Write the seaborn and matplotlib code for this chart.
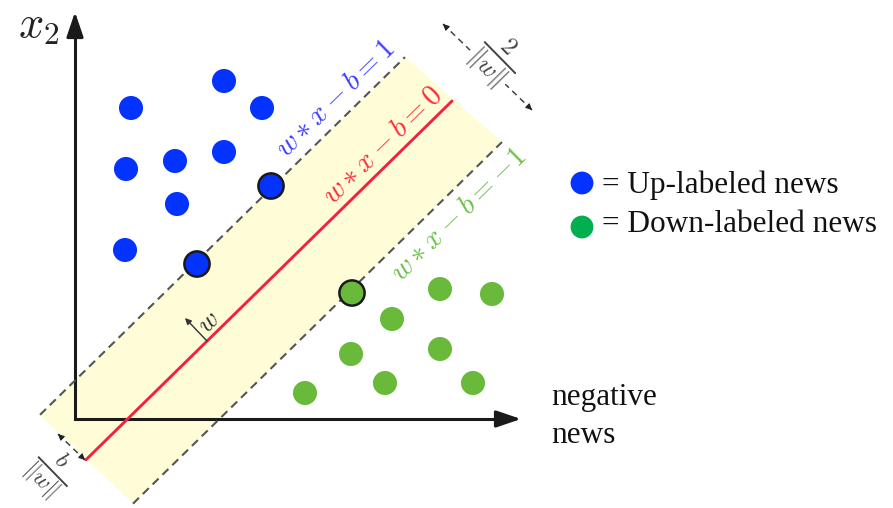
import numpy as np
import pandas as pd
import matplotlib
matplotlib.use("Agg")
import matplotlib.pyplot as plt
import seaborn as sns

# Feature-space samples (origin at the axes crossing, one unit per pixel)
up_x = [56, 149, 187, 51, 100, 149, 102, 50]
up_y = [311, 338, 311, 250, 258, 267, 215, 169]
down_x = [365, 417, 317, 276, 365, 310, 398, 230]
down_y = [130, 125, 100, 65, 70, 36, 36, 26]

# Support vectors sitting on the margins
sv_up_x = [196, 122]
sv_up_y = [233, 155]
sv_down_x = [277]
sv_down_y = [126]

# Separating hyperplane y = slope*x + intercept, margins at +/- margin
slope = 0.98
intercept = -51.5
margin = 90

# Drawn extent of each line (x range) for k = 1, 0, -1
line_k = [1, 0, -1]
line_x0 = [-35, 11, 58]
line_x1 = [330, 377, 427]

legend_labels = ["= Up-labeled news", "= Down-labeled news"]
axis_label = ["negative", "news"]

BLUE = "#0433ff"
GREEN = "#69b93a"
LEG_GREEN = "#00b050"

sns.set_theme(style="white")
plt.rcParams["mathtext.fontset"] = "cm"
plt.rcParams["font.family"] = ["Liberation Serif", "DejaVu Serif"]

fig = plt.figure(figsize=(8.93, 5.08), dpi=100)
ax = fig.add_axes([0, 0, 1, 1])
ax.set_xlim(-75, 818)
ax.set_ylim(-89, 419)
ax.set_aspect("equal")
ax.axis("off")


def yline(x, k):
    return slope * np.asarray(x, dtype=float) + intercept + k * margin


# margin band
bx = [line_x0[0], line_x1[0], line_x1[2], line_x0[2]]
by = [yline(line_x0[0], 1), yline(line_x1[0], 1), yline(line_x1[2], -1), yline(line_x0[2], -1)]
ax.fill(bx, by, color="#fffdd8", lw=0, zorder=0)

# coordinate axes
arrow_kw = dict(arrowstyle="-|>,head_length=1.0,head_width=0.34", lw=2.2,
                color="#1a1a1a", mutation_scale=15, shrinkA=0, shrinkB=0)
ax.plot([0, 0, 436], [398, 0, 0], color="#1a1a1a", lw=2.2, zorder=2,
        solid_joinstyle="miter")
ax.annotate("", xy=(0, 407), xytext=(0, 385), arrowprops=arrow_kw, zorder=2)
ax.annotate("", xy=(446, 0), xytext=(424, 0), arrowprops=arrow_kw, zorder=2)

# hyperplane and margins
for k, x0, x1 in zip(line_k, line_x0, line_x1):
    xs = np.array([x0, x1])
    if k == 0:
        ax.plot(xs, yline(xs, k), color="#f4213d", lw=2.1, zorder=3)
    else:
        ax.plot(xs, yline(xs, k), color="#555555", lw=1.5, dashes=(4, 2.6), zorder=3)

# line equations
ang = np.degrees(np.arctan(slope))
eq_kw = dict(rotation=ang, rotation_mode="anchor", ha="center", va="center",
             fontsize=21, zorder=4)
ax.text(261, 320, r"$w * x - b = 1$", color="#3b3bff", **eq_kw)
ax.text(308, 273, r"$w * x - b = 0$", color="#ff2a3c", **eq_kw)
ax.text(384, 204, r"$w * x - b = -1$", color="#6cbf46", **eq_kw)

# normal vector w
ax.annotate("", xy=(110, 101), xytext=(132, 78),
            arrowprops=dict(arrowstyle="-|>", lw=1.0, color="#333333",
                            mutation_scale=9, shrinkA=0, shrinkB=0), zorder=4)
ax.text(135, 96, r"$w$", rotation=ang, rotation_mode="anchor", ha="center",
        va="center", fontsize=19, color="#333333", zorder=4)


def dashed_double_arrow(p0, p1):
    p0 = np.asarray(p0, float)
    p1 = np.asarray(p1, float)
    ax.plot([p0[0], p1[0]], [p0[1], p1[1]], color="#444444", lw=1.1,
            dashes=(4, 3), zorder=4)
    d = (p1 - p0) / np.hypot(*(p1 - p0))
    head = dict(arrowstyle="-|>", lw=0.8, color="#222222", mutation_scale=9,
                shrinkA=0, shrinkB=0)
    ax.annotate("", xy=p1, xytext=p1 - 6 * d, arrowprops=head, zorder=4)
    ax.annotate("", xy=p0, xytext=p0 + 6 * d, arrowprops=head, zorder=4)


perp = ang - 90
# offset of the hyperplane from the origin
dashed_double_arrow((-17, -15), (10, -41))
ax.text(-25, -53, r"$\frac{b}{\Vert w\Vert}$", rotation=perp, rotation_mode="anchor",
        ha="center", va="center", fontsize=24, color="#444444", zorder=4)

# margin width
dashed_double_arrow((368, 395), (457, 309))
ax.text(421, 360, r"$\frac{2}{\Vert w\Vert}$", rotation=perp, rotation_mode="anchor",
        ha="center", va="center", fontsize=26, color="#444444", zorder=5,
        bbox=dict(boxstyle="square,pad=0.05", fc="white", ec="none"))

# samples
df = pd.DataFrame({
    "x": up_x + down_x,
    "y": up_y + down_y,
    "label": ["up"] * len(up_x) + ["down"] * len(down_x),
})
sns.scatterplot(data=df, x="x", y="y", hue="label",
                palette={"up": BLUE, "down": GREEN}, s=300, linewidth=0,
                legend=False, ax=ax, zorder=5)
sv = pd.DataFrame({
    "x": sv_up_x + sv_down_x,
    "y": sv_up_y + sv_down_y,
    "label": ["up"] * len(sv_up_x) + ["down"] * len(sv_down_x),
})
sns.scatterplot(data=sv, x="x", y="y", hue="label",
                palette={"up": BLUE, "down": GREEN}, s=330, linewidth=1.8,
                edgecolor="#1a1a1a", legend=False, ax=ax, zorder=6)

# axis label
ax.text(-36, 392, r"$x_2$", fontsize=32, ha="center", va="center", color="#222222")
ax.text(476, 14, axis_label[0], fontsize=22.5, ha="left", va="baseline", color="#111111")
ax.text(476, -24, axis_label[1], fontsize=22.5, ha="left", va="baseline", color="#111111")

# key
ax.scatter([507, 507], [236, 192], s=270, c=[BLUE, LEG_GREEN], linewidths=0, zorder=5)
ax.text(527, 226, legend_labels[0], fontsize=22.5, ha="left", va="baseline", color="#111111")
ax.text(527, 187, legend_labels[1], fontsize=22.5, ha="left", va="baseline", color="#111111")

fig.savefig("out.png", dpi=100)
